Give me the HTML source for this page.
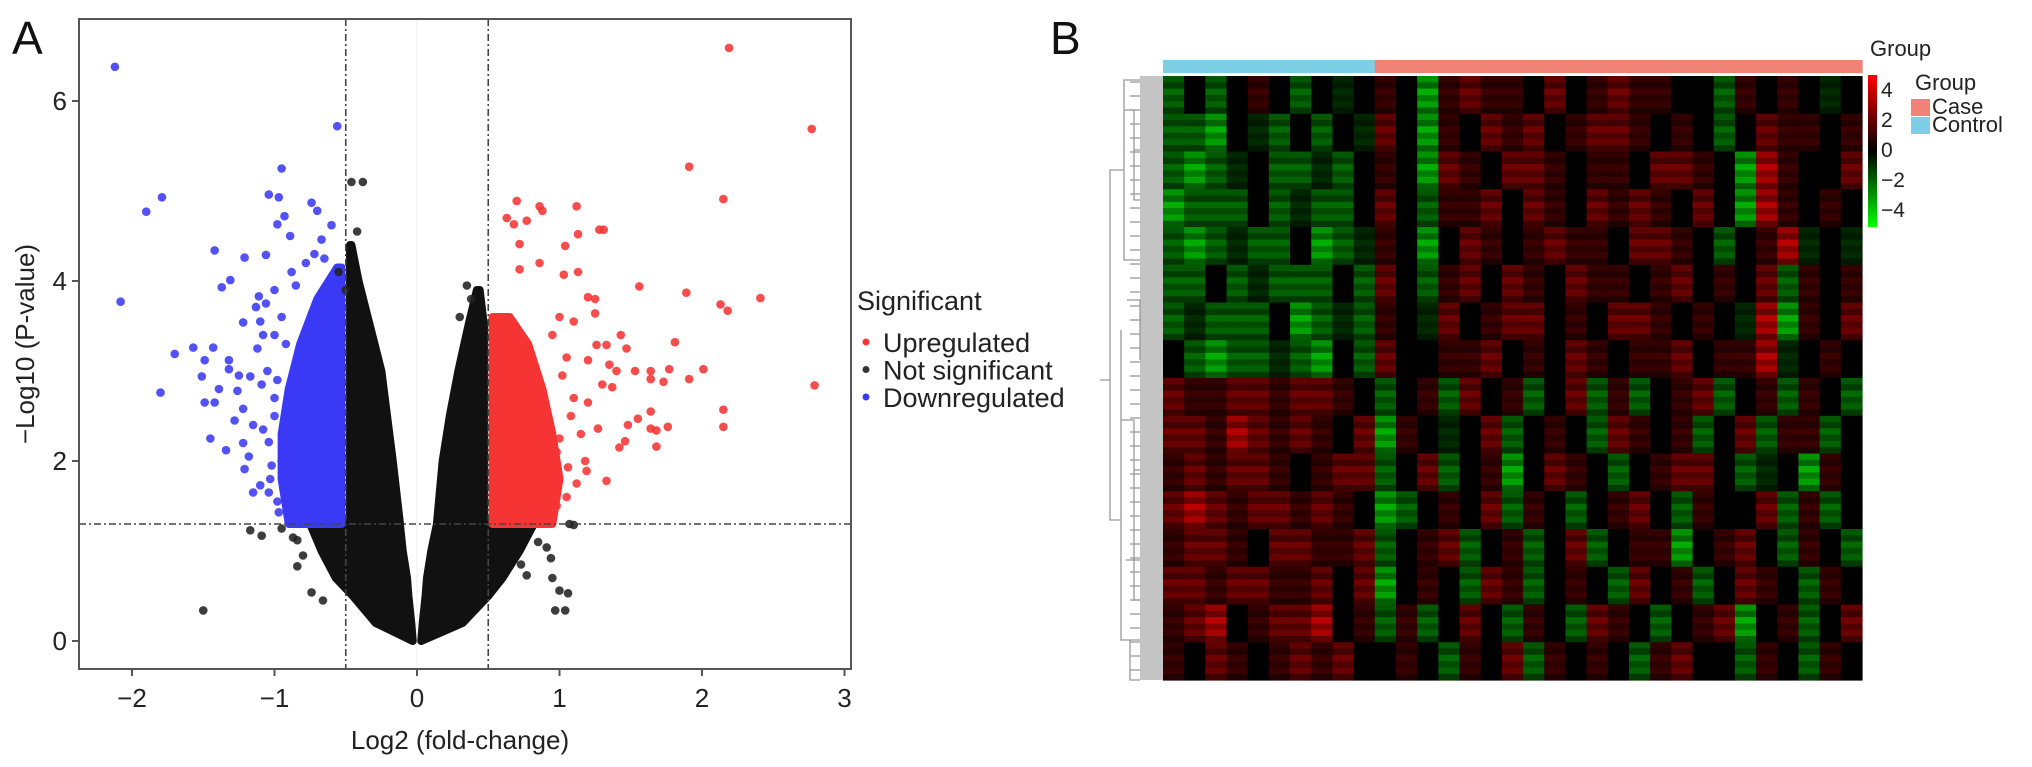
<!DOCTYPE html>
<html><head><meta charset="utf-8"><style>
html,body{margin:0;padding:0;background:#fff;}
svg{display:block;font-family:"Liberation Sans",Arial,sans-serif;}
</style></head><body>
<svg id="fig" width="2032" height="767" viewBox="0 0 2032 767" xmlns="http://www.w3.org/2000/svg">
<rect x="0" y="0" width="2032" height="767" fill="#fff"/>
<text x="12" y="54" font-size="46" fill="#111">A</text>
<text x="1050" y="54" font-size="46" fill="#111">B</text>
<g id="volcano"></g>
<g id="heat"></g>
</svg>
<script>
// ---------- Volcano data ----------
const xTicks = [-2,-1,0,1,2,3];
const yTicks = [0,2,4,6];
const threshX = [-0.5,0.5];
const threshY = 1.3;
const blackLeftY = [0,0.2,0.5,0.7,1.0,1.3,1.31,2.0,2.5,3.0,3.5,4.0,4.4];
const blackLeftOuter = [-0.03,-0.29,-0.45,-0.57,-0.67,-0.75,-0.47,-0.47,-0.47,-0.47,-0.47,-0.47,-0.47];
const blackLeftInner = [-0.03,-0.04,-0.06,-0.07,-0.1,-0.12,-0.12,-0.17,-0.21,-0.25,-0.33,-0.41,-0.46];
const blackRightY = [0,0.2,0.5,0.7,1.0,1.3,1.31,2.0,2.5,3.0,3.5,3.9];
const blackRightInner = [0.03,0.04,0.06,0.07,0.1,0.14,0.14,0.18,0.23,0.29,0.36,0.42];
const blackRightOuter = [0.03,0.32,0.5,0.6,0.72,0.82,0.47,0.47,0.47,0.47,0.47,0.44];
const blueY = [1.3,1.8,2.3,2.8,3.3,3.8,4.15];
const blueLeft = [-0.9,-0.95,-0.95,-0.9,-0.82,-0.7,-0.56];
const blueRight = -0.53;
const redY = [1.3,1.8,2.3,2.8,3.3,3.6];
const redRight = [0.95,1.0,0.95,0.88,0.78,0.65];
const redLeft = 0.53;
const blueX = [-2.12,-0.56,-0.95,-1.79,-1.90,-1.04,-0.97,-0.74,-0.70,-0.93,-0.98,-0.89,-0.60,-0.67,-1.42,-1.21,-1.06,-2.08,-1.37,-1.31,-1.70,-1.57,-1.43,-1.49,-1.51,-1.80,-1.49,-1.42,-1.45,-1.34,-1.32,-1.32,-1.39,-1.26,-1.22,-1.21,-1.10,-1.22,-1.11,-1.22,-1.13,-1.17,-1.04,-1.04,-0.97,-1.0,-0.95,-0.92,-0.98,-1.0,-0.95,-0.9,-0.88,-0.85,-0.78,-0.72,-0.65,-1.08,-1.15,-0.9,-1.02,-1.05,-1.12,-1.0,-1.08,-1.18,-1.03,-0.98,-1.1,-1.25,-1.06,-0.93,-1.15,-1.28,-1.0,-1.09];
const blueYv = [6.38,5.72,5.25,4.93,4.77,4.96,4.93,4.87,4.78,4.72,4.63,4.5,4.62,4.46,4.34,4.26,4.29,3.77,3.93,4.01,3.19,3.26,3.26,3.12,2.94,2.76,2.65,2.65,2.25,2.12,3.12,3.02,2.8,2.78,2.58,1.91,1.73,2.2,3.83,3.54,3.71,2.94,2.21,1.65,1.43,3.9,3.6,3.3,2.9,2.5,2.0,1.6,4.1,3.95,4.2,4.3,4.25,3.4,2.4,1.45,1.95,3.0,3.25,2.7,2.35,2.05,1.8,1.55,3.55,2.95,3.75,2.2,1.65,2.45,3.4,2.85];
const redX = [2.19,2.77,1.91,2.15,1.89,2.41,2.13,2.18,1.81,1.77,2.01,1.91,1.73,1.64,2.79,2.15,1.68,1.76,2.15,1.68,0.70,0.86,0.88,1.12,0.77,0.68,0.63,1.28,1.31,1.13,1.04,0.72,0.86,0.72,1.13,1.03,1.56,1.20,1.25,1.43,1.26,1.33,1.47,1.2,1.35,1.4,1.53,1.64,1.3,1.37,1.55,1.64,1.48,1.64,1.46,1.42,1.33,1.27,1.19,1.06,1.0,0.95,1.1,0.98,1.05,1.08,1.15,1.02,1.12,1.2,1.05,0.98,1.1,1.18,1.25,1.0];
const redYv = [6.59,5.69,5.27,4.91,3.87,3.81,3.74,3.67,3.32,3.02,3.02,2.91,2.88,2.91,2.84,2.57,2.34,2.38,2.38,2.16,4.89,4.83,4.78,4.83,4.67,4.63,4.70,4.57,4.57,4.52,4.39,4.41,4.2,4.13,4.1,4.07,3.94,3.82,3.64,3.40,3.29,3.29,3.25,3.12,3.07,3.0,3.0,3.0,2.85,2.82,2.47,2.55,2.4,2.36,2.22,2.15,1.78,2.36,1.89,1.93,3.6,3.4,2.7,2.1,1.6,2.5,2.3,2.95,1.75,2.65,3.15,1.5,3.55,2.0,3.8,2.25];
const greyX = [-0.46,-0.38,-0.42,-1.5,-1.17,-1.09,-0.87,-0.84,-0.84,-0.74,-0.66,1.07,1.1,0.91,0.94,0.95,1.0,1.06,0.97,1.04,0.73,0.77,-0.55,-0.5,0.35,0.38,0.3,-0.8,0.85,-0.95];
const greyY = [5.1,5.1,4.55,0.34,1.23,1.17,1.15,1.12,0.83,0.54,0.45,1.3,1.29,1.04,0.92,0.70,0.56,0.53,0.34,0.34,0.85,0.73,4.1,3.9,3.95,3.8,3.6,0.95,1.1,1.25];

const NS="http://www.w3.org/2000/svg";
const vx = v => 417 + v*142.5;
const vy = v => 641 - v*90;
const V = document.getElementById('volcano');
function mk(tag, attrs, parent){const e=document.createElementNS(NS,tag);for(const k in attrs)e.setAttribute(k,attrs[k]);(parent||V).appendChild(e);return e;}

let zl = mk('line',{x1:vx(0),x2:vx(0),y1:19,y2:669,stroke:'#ececec','stroke-width':1});



function envPoly(ys, outer, inner, color, name){
  const pts=[];
  for(let i=0;i<ys.length;i++){const o=Array.isArray(outer)?outer[i]:outer;pts.push(vx(o)+','+vy(ys[i]));}
  for(let i=ys.length-1;i>=0;i--){const n=Array.isArray(inner)?inner[i]:inner;pts.push(vx(n)+','+vy(ys[i]));}
  const p=mk('polygon',{points:pts.join(' '),fill:color,stroke:color,'stroke-width':8,'stroke-linejoin':'round'});
  
  
}
envPoly(blackLeftY,blackLeftOuter,blackLeftInner,'#111','not-significant-left-cloud');
envPoly(blackRightY,blackRightInner,blackRightOuter,'#111','not-significant-right-cloud');
envPoly(blueY,blueLeft,blueRight,'#3a3af6','downregulated-cloud');
envPoly(redY,redLeft,redRight,'#f63434','upregulated-cloud');

function dots(xs,ys,color,name){
  for(let i=0;i<xs.length;i++){
    const c=mk('circle',{cx:vx(xs[i]),cy:vy(ys[i]),r:4.3,fill:color,'fill-opacity':0.88});
    
    
  }
}
dots(greyX,greyY,'#222','not-significant-point');
dots(blueX,blueYv,'#3a3af6','downregulated-point');
dots(redX,redYv,'#f63434','upregulated-point');

threshX.forEach(t=>{const l=mk('line',{x1:vx(t),x2:vx(t),y1:19,y2:669,stroke:'#444','stroke-width':1.6,'stroke-dasharray':'7,3,2,3'});

});
let hl=mk('line',{x1:79,x2:851,y1:vy(threshY),y2:vy(threshY),stroke:'#444','stroke-width':1.6,'stroke-dasharray':'7,3,2,3'});



let fr=mk('rect',{x:79,y:19,width:772,height:650,fill:'none',stroke:'#555','stroke-width':2});


xTicks.forEach(t=>{
  mk('line',{x1:vx(t),x2:vx(t),y1:669,y2:676,stroke:'#555','stroke-width':2});
  const tx=mk('text',{x:vx(t),y:707,'font-size':26,'text-anchor':'middle',fill:'#222'});
  tx.textContent=(t<0?'\u2212'+(-t):t);
  
  
});
yTicks.forEach(t=>{
  mk('line',{x1:72,x2:79,y1:vy(t),y2:vy(t),stroke:'#555','stroke-width':2});
  const tx=mk('text',{x:67,y:vy(t)+9,'font-size':26,'text-anchor':'end',fill:'#222'});
  tx.textContent=t;
  
  
});
let xt=mk('text',{x:460,y:749,'font-size':26,'text-anchor':'middle',fill:'#222'});
xt.textContent='Log2 (fold-change)';


let yt=mk('text',{x:0,y:0,'font-size':26,'text-anchor':'middle',fill:'#222',transform:'translate(34,344) rotate(-90)'});
yt.textContent='\u2212Log10 (P-value)';



let lt=mk('text',{x:857,y:310,'font-size':27,fill:'#222'});
lt.textContent='Significant';


const legLabels=['Upregulated','Not significant','Downregulated'];
const legColors=['#f63434','#333','#3a3af6'];
legLabels.forEach((s,i)=>{
  const y=342+i*27.5;
  const g=mk('g',{});
  
  
  mk('circle',{cx:866,cy:y,r:3.5,fill:legColors[i]},g);
  const t=mk('text',{x:883,y:y+10,'font-size':27,fill:'#222'},g);t.textContent=s;
});

// ---------- Heatmap data ----------
const groups = ['Control','Control','Control','Control','Control','Control','Control','Control','Control','Control','Case','Case','Case','Case','Case','Case','Case','Case','Case','Case','Case','Case','Case','Case','Case','Case','Case','Case','Case','Case','Case','Case','Case'];
const levelCodes = {G:-2.3,g:-1.4,d:-0.6,k:0,e:0.8,r:1.5,R:2.4};
const bandRows = [
"gkgkekgkdk"+"ekGereekrkereekkgekekdk",
"ggGkdgkgkd"+"rkGekrerkerrekekgkreeke",
"gGgdkggdgk"+"ekGrekrrekeekrrekGRekkr",
"Ggggkgdggk"+"rkgeerkrekrerekrkGRekek",
"gGgdggkGgd"+"ekGkrekereekrrekgkeRdkd",
"ggkgdgggkg"+"rkgerkrekreekerkekrgeke",
"gdgggkGgdg"+"ekdrkerrkekrrekekdRGekr",
"kgGggdgGkg"+"rkkeerkekrekeerkeeRdkek",
"reerrerrek"+"gkegrkegkrgegkergkegekg",
"rreRrerekr"+"Gekdkrgkekgrekegkrgeegk",
"ererrekerr"+"gkrgkeGkrekgkerrkgdkGek",
"rRrerrerek"+"Ggkekrgekgkerkgekkrgegk",
"errekrreer"+"gkergkegkrgkeeGkerkgekg",
"rrerreerkr"+"Gkekgregkekgrkegkrekgek",
"erRkerrRke"+"gegkrkgekgrekgkerGkegkr",
"ekrekererk"+"kekgekrgekekgerkkgekgek"
];
const subRowShade = [1.0,0.7,1.2,0.85,1.1,0.65];
const colorTicks=[4,2,0,-2,-4];

const H=document.getElementById('heat');
const hx0=1163,hx1=1862,hy0=76,hy1=680;
const cw=(hx1-hx0)/groups.length, bh=(hy1-hy0)/bandRows.length, sh=bh/subRowShade.length;
function valColor(v){const a=Math.min(1,Math.abs(v)/4);const c=Math.round(255*a);return v>=0?`rgb(${c},0,0)`:`rgb(0,${c},0)`;}
bandRows.forEach((row,bi)=>{
  for(let ci=0;ci<groups.length;ci++){
    const v=levelCodes[row[ci]]||0;
    subRowShade.forEach((m,si)=>{
      const r=mk('rect',{x:hx0+ci*cw,y:hy0+bi*bh+si*sh,width:cw+0.6,height:sh+0.6,fill:valColor(v*m)},H);
      
      
    });
  }
});
groups.forEach((g,ci)=>{
  const r=mk('rect',{x:hx0+ci*cw,y:60,width:cw+0.6,height:13,fill:g==='Case'?'#f08375':'#7dcfe6'},H);
  
  
});
let strip=mk('rect',{x:1140,y:hy0,width:23,height:hy1-hy0,fill:'#c4c4c4'},H);


const dg=mk('g',{stroke:'#999','stroke-width':1.3,fill:'none'},H);


mk('path',{d:'M1140,80 H1124 V260 H1140 M1124,170 H1110 V520 H1121 M1121,330 V640 H1140 M1121,420 H1134 V600 H1140 M1110,380 H1100 M1124,110 H1134 V200 H1140 M1134,150 H1140 M1134,470 H1140 M1126,560 H1140 M1127,300 H1140 V360 M1130,640 V680 H1140'},dg);
for(let y=hy0+6;y<hy1;y+=14){mk('line',{x1:1130,x2:1140,y1:y,y2:y},dg);}

const defs=mk('defs',{},H);
const lg=mk('linearGradient',{id:'cb',x1:0,y1:0,x2:0,y2:1},defs);
mk('stop',{offset:'0','stop-color':'#ff0000'},lg);
mk('stop',{offset:'0.5','stop-color':'#000000'},lg);
mk('stop',{offset:'1','stop-color':'#00ff00'},lg);
let cb=mk('rect',{x:1868,y:75,width:9,height:152,fill:'url(#cb)'},H);


colorTicks.forEach(t=>{
  const tx=mk('text',{x:1881,y:150-15*t+7,'font-size':21,fill:'#222'},H);
  tx.textContent=t<0?'\u2212'+(-t):t;
  
  
});
let gt=mk('text',{x:1870,y:56,'font-size':22,fill:'#222'},H);gt.textContent='Group';


let gl=mk('text',{x:1915,y:90,'font-size':22,fill:'#222'},H);gl.textContent='Group';


[['Case','#f08375',99],['Control','#7dcfe6',117]].forEach(([s,c,y])=>{
  const g=mk('g',{},H);
  
  
  mk('rect',{x:1911,y:y,width:19,height:17,fill:c},g);
  const t=mk('text',{x:1932,y:y+15,'font-size':22,fill:'#222'},g);t.textContent=s;
});
</script>
</body></html>
